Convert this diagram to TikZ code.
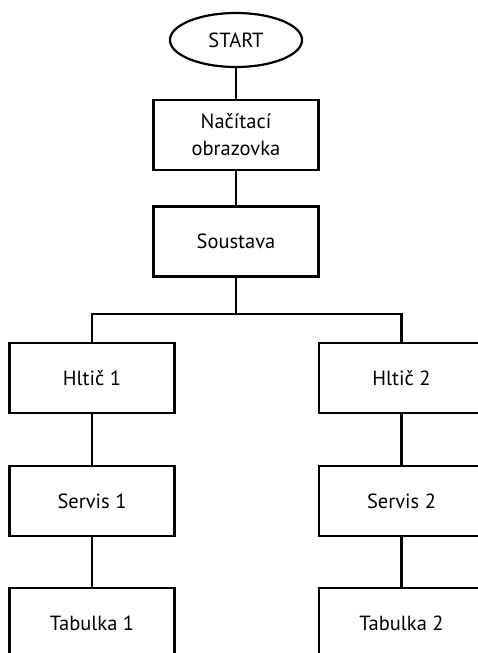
\documentclass[tikz,border=0pt]{standalone}
\usepackage{fontspec}
\setmainfont{PT Sans}
\usetikzlibrary{shapes.geometric}
\begin{document}
\begin{tikzpicture}[x=1pt,y=-1pt,
  box/.style={draw=black,line width=2.2pt,minimum width=165pt,minimum height=70pt,inner sep=0pt,align=center,font=\fontsize{20.5}{27}\selectfont},
  term/.style={draw=black,line width=2.2pt,ellipse,minimum width=132pt,minimum height=54pt,inner sep=0pt,font=\fontsize{20.5}{27}\selectfont},
  link/.style={line width=2.2pt}]
\useasboundingbox (0,0) rectangle (478,653);
\clip (0,0) rectangle (478,653);
\node[term] (start) at (236,40) {START};
\node[box] (nac) at (236,135) {Načítací\\obrazovka};
\node[box] (sou) at (236,241.5) {Soustava};
\coordinate (split) at (236,314);
\node[box] (h1) at (92,378) {Hltič 1};
\node[box] (h2) at (401.5,378) {Hltič 2};
\node[box] (s1) at (92,501) {Servis 1};
\node[box] (s2) at (401.5,501) {Servis 2};
\node[box] (t1) at (92,623) {Tabulka 1};
\node[box] (t2) at (401.5,623) {Tabulka 2};
\draw[link] (start) -- (nac);
\draw[link] (nac) -- (sou);
\draw[link] (sou.south) -- (split);
\draw[link] (h1.north) |- (split) -| (h2.north);
\draw[link] (h1) -- (s1);
\draw[link] (s1) -- (t1);
\draw[link] (h2) -- (s2);
\draw[link] (s2) -- (t2);
\end{tikzpicture}
\end{document}
